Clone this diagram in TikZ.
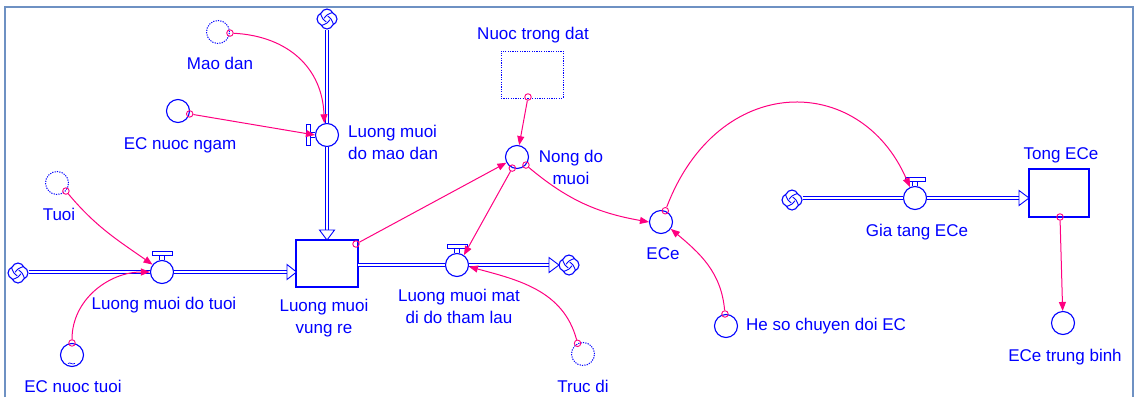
\documentclass[tikz,border=0pt]{standalone}
\usepackage{fontspec}
\setmainfont{Liberation Sans}
\usetikzlibrary{arrows.meta,shapes.symbols,calc}

\definecolor{vblue}{RGB}{0,0,255}
\definecolor{vpink}{RGB}{255,0,128}
\definecolor{vframe}{RGB}{110,145,195}

\tikzset{
  aux/.style={circle,draw=vblue,line width=1.1pt,minimum size=23pt,inner sep=0pt,fill=white},
  shadowaux/.style={aux,dash pattern=on 1.2pt off 1.2pt,line width=1pt},
  stockbox/.style={rectangle,draw=vblue,line width=1.1pt,fill=white,inner sep=0pt},
  lbl/.style={text=vblue,font=\fontsize{17}{21.5}\selectfont,inner sep=0pt,anchor=base},
  pipe/.style={draw=vblue,double=white,line width=0.9pt,double distance=2.4pt},
  pipehead/.style={draw=vblue,fill=white,line width=0.9pt,line join=miter},
  link/.style={draw=vpink,line width=1pt,-{Triangle[length=9pt,width=7pt]}},
  tail/.style={circle,draw=vpink,line width=0.9pt,minimum size=6.5pt,inner sep=0pt},
  cloudsrc/.style={cloud,cloud puffs=4,cloud puff arc=140,aspect=1,draw=vblue,
    line width=1.1pt,minimum size=20pt,inner sep=0pt,fill=white,
    path picture={
      \foreach \a in {45,135,225,315}{
        \draw[vblue,line width=0.9pt]
          ($(path picture bounding box.center)+(\a:10pt)$) ..
          controls ($(path picture bounding box.center)+(\a+45:4.5pt)$) ..
          ($(path picture bounding box.center)+(\a+120:3pt)$);
      }}},
}

% valve handle above a horizontal flow
\newcommand\valvetop[1]{%
  \draw[vblue,line width=0.8pt] ($(#1.north)+(-2.3,0)$) -- ++(0,4.5)
                                ($(#1.north)+(2.3,0)$) -- ++(0,4.5);
  \draw[vblue,line width=0.9pt,fill=white] ($(#1.north)+(-10,4.5)$) rectangle ($(#1.north)+(10,8.5)$);}
% valve handle left of a vertical flow
\newcommand\valveleft[1]{%
  \draw[vblue,line width=0.8pt] ($(#1.west)+(0,-2.3)$) -- ++(-4.5,0)
                                ($(#1.west)+(0,2.3)$) -- ++(-4.5,0);
  \draw[vblue,line width=0.9pt,fill=white] ($(#1.west)+(-4.5,-10.5)$) rectangle ($(#1.west)+(-8.5,10.5)$);}

\begin{document}
\begin{tikzpicture}[x=1pt,y=1pt]
\useasboundingbox (0,0) rectangle (1136,-397);

% frame
\draw[vframe,line width=2pt] (5,-397) -- (5,-7) -- (1133,-7) -- (1133,-397);

% ---------- stocks ----------
\node[stockbox,minimum width=62pt,minimum height=47pt] (s1) at (327,-263.5) {};
\node[stockbox,minimum width=60pt,minimum height=48pt] (s2) at (1059,-193) {};
\node[stockbox,dash pattern=on 1.2pt off 1.2pt,line width=1pt,minimum width=62pt,minimum height=47pt] (ntd) at (532,-74.5) {};

% ---------- clouds ----------
\node[cloudsrc] (c1) at (18,-273) {};
\node[cloudsrc] (c2) at (327,-19) {};
\node[cloudsrc] (c3) at (569,-265) {};
\node[cloudsrc] (c4) at (792,-200) {};

% ---------- valves ----------
\node[aux] (tv) at (162,-272) {};
\node[aux] (mv) at (327,-135) {};
\node[aux] (ov) at (457,-265) {};
\node[aux] (gv) at (915,-198) {};

% ---------- auxiliaries ----------
\node[shadowaux] (md) at (218,-32) {};
\node[aux] (ecn) at (178,-111) {};
\node[shadowaux] (tuoi) at (57,-183) {};
\node[aux] (ect) at (72,-355) {};
\node[aux] (ndm) at (517,-157) {};
\node[shadowaux] (td) at (583,-354) {};
\node[aux] (ece) at (661,-222) {};
\node[aux] (hs) at (726,-326) {};
\node[aux] (etb) at (1063,-323) {};
\draw[vblue,line width=0.7pt] ($(ect)+(-4,-8.5)$) .. controls ($(ect)+(-2,-6.5)$) and ($(ect)+(0,-10.5)$) .. ($(ect)+(3,-8.3)$);

% ---------- pipes ----------
\coordinate (a1) at (287,-272);
\coordinate (a2) at (327,-230);
\coordinate (s1o) at (358,-265);
\coordinate (a3) at (549,-265);
\coordinate (a4) at (1019,-198);
\draw[pipe] (c1.east |- tv) -- (tv.west);
\draw[pipe] (tv.east) -- (a1);
\draw[pipehead] ($(a1)+(0,7.5)$) -- ($(a1)+(9.5,0)$) -- ($(a1)+(0,-7.5)$) -- cycle;
\draw[pipe] (c2.south) -- (mv.north);
\draw[pipe] (mv.south) -- (a2);
\draw[pipehead] ($(a2)+(-7.5,0)$) -- ($(a2)+(0,-10)$) -- ($(a2)+(7.5,0)$) -- cycle;
\draw[pipe] (s1o) -- (ov.west);
\draw[pipe] (ov.east) -- (a3);
\draw[pipehead] ($(a3)+(0,7.5)$) -- ($(a3)+(10,0)$) -- ($(a3)+(0,-7.5)$) -- cycle;
\draw[pipe] (c4.east |- gv) -- (gv.west);
\draw[pipe] (gv.east) -- (a4);
\draw[pipehead] ($(a4)+(0,7.5)$) -- ($(a4)+(10,0)$) -- ($(a4)+(0,-7.5)$) -- cycle;

\valvetop{tv}
\valvetop{ov}
\valvetop{gv}
\valveleft{mv}

% ---------- link tails ----------
\node[tail] (tmd) at (md.-5) {};
\node[tail] (tecn) at (ecn.-14) {};
\node[tail] (ttuoi) at (tuoi.-42) {};
\node[tail] (tect) at (ect.90) {};
\node[tail] (ts1) at (356,-244) {};
\node[tail] (tntd) at (528,-97) {};
\node[tail] (tn1) at (ndm.-113) {};
\node[tail] (tn2) at (ndm.-42) {};
\node[tail] (ttd) at (td.117) {};
\node[tail] (tece) at (ece.69) {};
\node[tail] (ths) at (hs.95) {};
\node[tail] (ts2) at (1060,-217) {};

% ---------- links ----------
\draw[link] (tmd) to[out=-3,in=92,looseness=1.1] (mv.103);
\draw[link] (tecn) -- (mv.west);
\draw[link] (ttuoi) to[out=-50,in=145] (tv.142);
\draw[link] (tect) to[out=90,in=180] (tv.west);
\draw[link] (ts1) -- (ndm);
\draw[link] (tntd) -- (ndm);
\draw[link] (tn1) -- (ov.55);
\draw[link] (tn2) to[out=-40,in=170] (ece.west);
\draw[link] (ttd) to[out=105,in=-15] (ov.-8);
\draw[link] (tece) .. controls (718,-72) and (860,-72) .. (gv.115);
\draw[link] (ths) to[out=95,in=-40] (ece.-35);
\draw[link] (ts2) -- (etb);

% ---------- labels ----------
\node[lbl] (lmd) at (220,-69) {Mao dan};
\node[lbl] (lecn) at (180,-149) {EC nuoc ngam};
\node[lbl] (ltuoi) at (59,-220) {Tuoi};
\node[lbl] (ltv) at (164,-309) {Luong muoi do tuoi};
\node[lbl,align=center] (ls1) at (324,-333) {Luong muoi\\vung re};
\node[lbl] (lect) at (73,-392) {EC nuoc tuoi};
\node[lbl,align=left,anchor=base west] (lmv) at (348,-159) {Luong muoi\\do mao dan};
\node[lbl] (lntd) at (533,-39) {Nuoc trong dat};
\node[lbl,align=center] (lndm) at (571,-184) {Nong do\\muoi};
\node[lbl,align=center] (lov) at (459,-323) {Luong muoi mat\\di do tham lau};
\node[lbl] (ltd) at (583,-392) {Truc di};
\node[lbl] (lece) at (663,-259) {ECe};
\node[lbl] (ltong) at (1061,-159) {Tong ECe};
\node[lbl] (lgv) at (917,-236) {Gia tang ECe};
\node[lbl,anchor=base west] (lhs) at (746,-330) {He so chuyen doi EC};
\node[lbl] (letb) at (1065,-361) {ECe trung binh};
\end{tikzpicture}
\end{document}
